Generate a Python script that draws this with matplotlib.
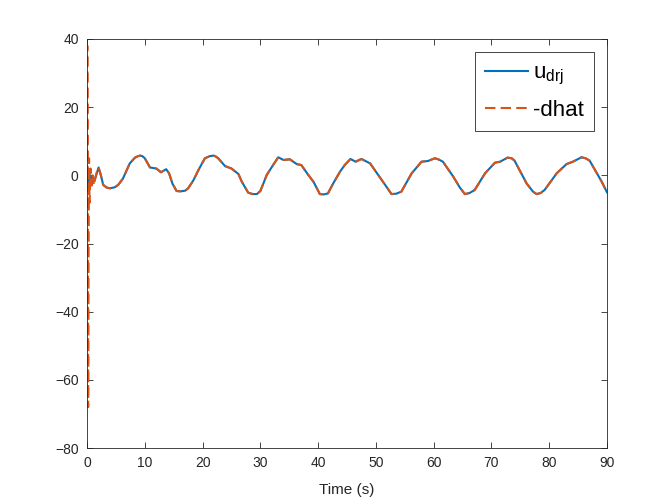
import numpy as np
import matplotlib.pyplot as plt

plt.rcParams['font.family'] = ['Liberation Sans', 'DejaVu Sans']
plt.rcParams['mathtext.default'] = 'regular'

# u_drj
t_u = [0, 0.3, 0.6, 1.0, 1.4, 2.0, 2.4, 2.8, 3.4, 4.0, 4.8, 5.4, 6.2, 7.4, 8.3,
       8.8, 9.2, 9.6, 10.0, 10.9, 12.0, 12.8, 13.7, 14.2, 14.8, 15.5, 16.2, 17.0,
       17.5, 18.4, 19.3, 20.4, 21.2, 21.9, 22.3, 22.7, 23.9, 25.0, 26.2, 26.8, 27.9,
       28.7, 29.4, 30.0, 30.5, 31.1, 32.2, 33.1, 34.0, 35.1, 36.3, 37.1, 38.3, 39.2,
       40.3, 41.0, 41.7, 42.6, 43.8, 44.6, 45.6, 46.5, 47.5, 49.0, 50.4, 51.6, 52.7,
       53.5, 54.4, 56.2, 57.9, 59.0, 60.2, 60.8, 61.6, 63.4, 64.5, 65.4, 66.2, 67.1,
       68.9, 70.6, 71.5, 72.8, 73.5, 74.0, 76.1, 77.2, 77.8, 78.5, 79.2, 81.3, 83.0,
       84.1, 85.6, 86.3, 87.0, 89.1, 90.0]
u = [0, -2.5, 0, -1.5, -1.0, 2.3, 0, -2.8, -3.6, -3.8, -3.5, -2.8, -1.0, 3.5, 5.2,
     5.6, 5.8, 5.6, 5.0, 2.3, 2.0, 0.9, 1.8, 0.6, -2.5, -4.6, -4.7, -4.5,
     -3.8, -1.5, 1.6, 5.0, 5.6, 5.8, 5.5, 5.0, 2.7, 2.0, 0.4, -1.9, -5.1,
     -5.5, -5.5, -4.6, -2.5, 0.1, 3.0, 5.3, 4.5, 4.7, 3.3, 3.0, 0.1, -1.9,
     -5.5, -5.6, -5.3, -2.4, 1.1, 3.0, 4.8, 4.0, 4.8, 3.5, 0.1, -2.8, -5.5,
     -5.4, -4.8, 0.6, 4.0, 4.2, 5.0, 4.7, 4.0, -0.4, -3.5, -5.5, -5.2, -4.3,
     0.6, 3.7, 4.0, 5.2, 5.0, 4.3, -2.4, -4.8, -5.5, -5.2, -4.3, 0.6, 3.3,
     4.0, 5.3, 5.0, 4.3, -1.9, -5.0]

# -dhat: start-up transient, then it tracks u_drj
t_d0 = [0, 0.05, 0.12, 0.2, 0.28, 0.35, 0.45, 0.6, 0.8, 1.0, 1.2, 1.4, 1.7]
d0 = [0, 38, 10, -68, -20, 5, -8, 2, -3, 0, -3, -1, 1]

t_d = t_d0 + t_u[5:]
dhat = d0 + u[5:]

fig = plt.figure(figsize=(6.71, 5.03), dpi=100)
ax = fig.add_axes([0.1297, 0.1093, 0.7749, 0.8132])

ax.plot(t_u, u, color='#0072BD', lw=1.5, label='u$_{drj}$')
ax.plot(t_d, dhat, color='#D95319', lw=1.5, ls=(0, (5, 2.5)), label='-dhat')

ax.set_xlim(0, 90)
ax.set_ylim(-80, 40)
ax.set_xticks(np.arange(0, 91, 10))
ax.set_yticks(np.arange(-80, 41, 20))
ax.tick_params(direction='in', top=True, right=True, length=4, width=0.6,
               colors='#262626', labelsize=10, pad=6)
for s in ax.spines.values():
    s.set_color('#262626')
    s.set_linewidth(0.6)
ax.set_xlabel('Time (s)', fontsize=11, color='#262626', labelpad=9)

leg = ax.legend(loc='upper right', fontsize=16, handlelength=1.95, fancybox=False,
                framealpha=1, borderaxespad=0.6, labelspacing=0.6,
                handletextpad=0.2, borderpad=0.45)
leg.get_frame().set_edgecolor('#262626')
leg.get_frame().set_linewidth(0.6)

fig.savefig('out.png', dpi=100, facecolor='white')
